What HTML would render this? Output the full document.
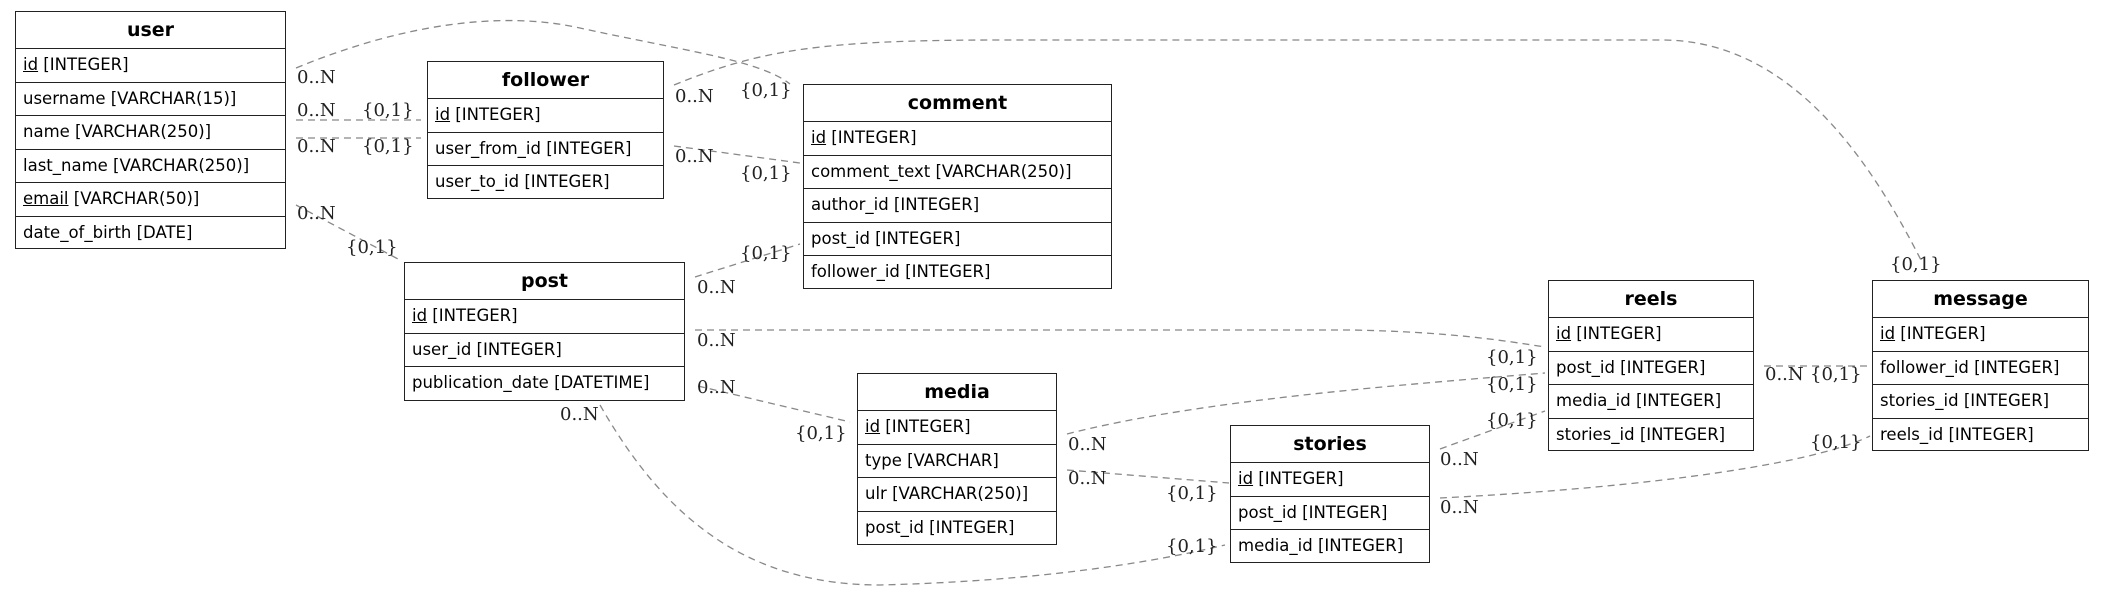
<!DOCTYPE html>
<html><head><meta charset="utf-8"><style>
body{margin:0;width:2104px;height:594px;background:#fff;position:relative;overflow:hidden;font-family:"DejaVu Sans","Liberation Sans",sans-serif;}
.t{position:absolute;border:1.5px solid #222;background:#fff;box-sizing:border-box;}
.t .h{height:37px;line-height:37px;text-align:center;font-weight:bold;font-size:19px;border-bottom:1.5px solid #222;box-sizing:border-box;}
.t .r{height:33.5px;line-height:32px;font-size:16.5px;padding-left:7px;border-bottom:1.5px solid #222;box-sizing:border-box;white-space:nowrap;}
.t .r:last-child{border-bottom:none;}
u{text-decoration:underline;}
svg{position:absolute;left:0;top:0;}
svg text{font-family:"DejaVu Serif","Liberation Serif",serif;font-size:18px;fill:#222;}
</style></head><body>
<svg width="2104" height="594">
<g fill="none" stroke="#888" stroke-width="1.3" stroke-dasharray="7,5">
<path d="M296,68 C400,25 500,10 580,28 C680,50 760,60 790,84"/>
<path d="M674,85 C760,50 820,40 1000,40 L1662,40 C1800,40 1880,180 1922,262"/>
<path d="M296,120 L421,120"/>
<path d="M296,138 L421,138"/>
<path d="M296,205 L400,260"/>
<path d="M674,146 L800,163"/>
<path d="M695,277 L800,244"/>
<path d="M695,330 L1352,330 C1450,332 1500,340 1545,347"/>
<path d="M698,386 L850,422"/>
<path d="M600,405 C660,510 740,585 880,585 C1000,582 1120,570 1225,545"/>
<path d="M1067,434 C1200,400 1400,385 1545,373"/>
<path d="M1067,470 L1229,483"/>
<path d="M1440,449 L1545,411"/>
<path d="M1440,498 C1600,490 1800,470 1870,436"/>
<path d="M1764,366 L1870,366"/>
</g>
<text x="297" y="83">0..N</text><text x="740" y="96">{0,1}</text>
<text x="675" y="102">0..N</text><text x="1890" y="270">{0,1}</text>
<text x="297" y="116">0..N</text><text x="362" y="116">{0,1}</text>
<text x="297" y="152">0..N</text><text x="362" y="152">{0,1}</text>
<text x="297" y="219">0..N</text><text x="346" y="253">{0,1}</text>
<text x="675" y="162">0..N</text><text x="740" y="179">{0,1}</text>
<text x="697" y="293">0..N</text><text x="740" y="259">{0,1}</text>
<text x="697" y="346">0..N</text><text x="1486" y="363">{0,1}</text>
<text x="697" y="393">0..N</text><text x="795" y="439">{0,1}</text>
<text x="560" y="420">0..N</text><text x="1166" y="552">{0,1}</text>
<text x="1068" y="450">0..N</text><text x="1486" y="390">{0,1}</text>
<text x="1068" y="484">0..N</text><text x="1166" y="499">{0,1}</text>
<text x="1440" y="465">0..N</text><text x="1486" y="426">{0,1}</text>
<text x="1440" y="513">0..N</text><text x="1810" y="448">{0,1}</text>
<text x="1765" y="380">0..N</text><text x="1810" y="380">{0,1}</text>
</svg>

<div class="t" style="left:15px;top:11px;width:271px;height:238px">
<div class="h">user</div>
<div class="r"><u>id</u> [INTEGER]</div>
<div class="r">username [VARCHAR(15)]</div>
<div class="r">name [VARCHAR(250)]</div>
<div class="r">last_name [VARCHAR(250)]</div>
<div class="r"><u>email</u> [VARCHAR(50)]</div>
<div class="r">date_of_birth [DATE]</div>
</div>

<div class="t" style="left:427px;top:61px;width:237px;height:138px">
<div class="h">follower</div>
<div class="r"><u>id</u> [INTEGER]</div>
<div class="r">user_from_id [INTEGER]</div>
<div class="r">user_to_id [INTEGER]</div>
</div>

<div class="t" style="left:803px;top:84px;width:309px;height:205px">
<div class="h">comment</div>
<div class="r"><u>id</u> [INTEGER]</div>
<div class="r">comment_text [VARCHAR(250)]</div>
<div class="r">author_id [INTEGER]</div>
<div class="r">post_id [INTEGER]</div>
<div class="r">follower_id [INTEGER]</div>
</div>

<div class="t" style="left:404px;top:262px;width:281px;height:139px">
<div class="h">post</div>
<div class="r"><u>id</u> [INTEGER]</div>
<div class="r">user_id [INTEGER]</div>
<div class="r">publication_date [DATETIME]</div>
</div>

<div class="t" style="left:857px;top:373px;width:200px;height:172px">
<div class="h">media</div>
<div class="r"><u>id</u> [INTEGER]</div>
<div class="r">type [VARCHAR]</div>
<div class="r">ulr [VARCHAR(250)]</div>
<div class="r">post_id [INTEGER]</div>
</div>

<div class="t" style="left:1230px;top:425px;width:200px;height:138px">
<div class="h">stories</div>
<div class="r"><u>id</u> [INTEGER]</div>
<div class="r">post_id [INTEGER]</div>
<div class="r">media_id [INTEGER]</div>
</div>

<div class="t" style="left:1548px;top:280px;width:206px;height:171px">
<div class="h">reels</div>
<div class="r"><u>id</u> [INTEGER]</div>
<div class="r">post_id [INTEGER]</div>
<div class="r">media_id [INTEGER]</div>
<div class="r">stories_id [INTEGER]</div>
</div>

<div class="t" style="left:1872px;top:280px;width:217px;height:171px">
<div class="h">message</div>
<div class="r"><u>id</u> [INTEGER]</div>
<div class="r">follower_id [INTEGER]</div>
<div class="r">stories_id [INTEGER]</div>
<div class="r">reels_id [INTEGER]</div>
</div>
</body></html>
